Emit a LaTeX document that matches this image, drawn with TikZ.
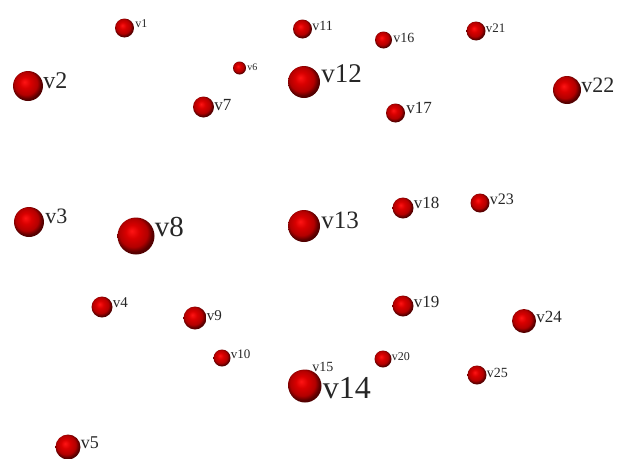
\documentclass[tikz,border=0pt]{standalone}
\usepackage{fontspec}
\setmainfont{Liberation Serif}
\usepackage{tikz}

\pgfdeclareradialshading{redball}{\pgfqpoint{-6bp}{7bp}}{%
  color(0bp)=(red!92!white); color(9bp)=(red!85!black);
  color(19bp)=(red!70!black); color(25bp)=(red!35!black); color(50bp)=(black)}

\tikzset{
  vball/.style={circle, inner sep=0pt, shading=redball},
  vlab/.style={anchor=base west, inner sep=0pt, text=black!85}
}

\begin{document}
\begin{tikzpicture}[x=1pt,y=-1pt]
		\useasboundingbox (0,0) rectangle (617,458);
		% vertices: name/x/y/radius/font size/label dx/label dy
		\foreach \n/\x/\y/\r/\f/\dx/\dy in {
			1/124.5/28/9.5/12/1/-1, 2/28/86/15/24/0/2, 3/29/222/15/22/1/1,
			4/102/307/10.5/15/0/0, 5/68/447/12.5/18/0/1, 6/239.5/68/6.5/10/1/2,
			7/203.5/107/10.5/17/0/3, 8/136/236/18.5/29/0/0, 9/195/318/11.5/15/0/2,
			10/222/358/8.5/13/0/0, 11/302.5/29/9.5/14/0/1, 12/304/82/16/27/1/0,
			13/304/226/16/25/1/2, 15/303/385/15/14/-6/-14, 16/383.5/40/8.5/14/1/2,
			17/395.5/113/9.5/17/1/0, 18/403/208/10.5/17/0/0, 19/403/306/10.5/17/0/1,
			20/383/359/8.5/12/0/1, 21/476/31/9.5/13/0/1, 22/567/90/14/22/0/2,
			23/480/203/9.5/16/0/1, 24/524/321/12/17/0/1, 25/477/375/9.5/14/0/2,
			14/305/386/16.5/32/1/12}
			{\node[vball, minimum size=2*\r pt,
				label={[vlab, font=\fontsize{\f}{\f}\selectfont, xshift=\dx pt, yshift=-\dy pt]0:v\n}]
				(v\n) at (\x,\y) {};}
	\end{tikzpicture}
\end{document}
